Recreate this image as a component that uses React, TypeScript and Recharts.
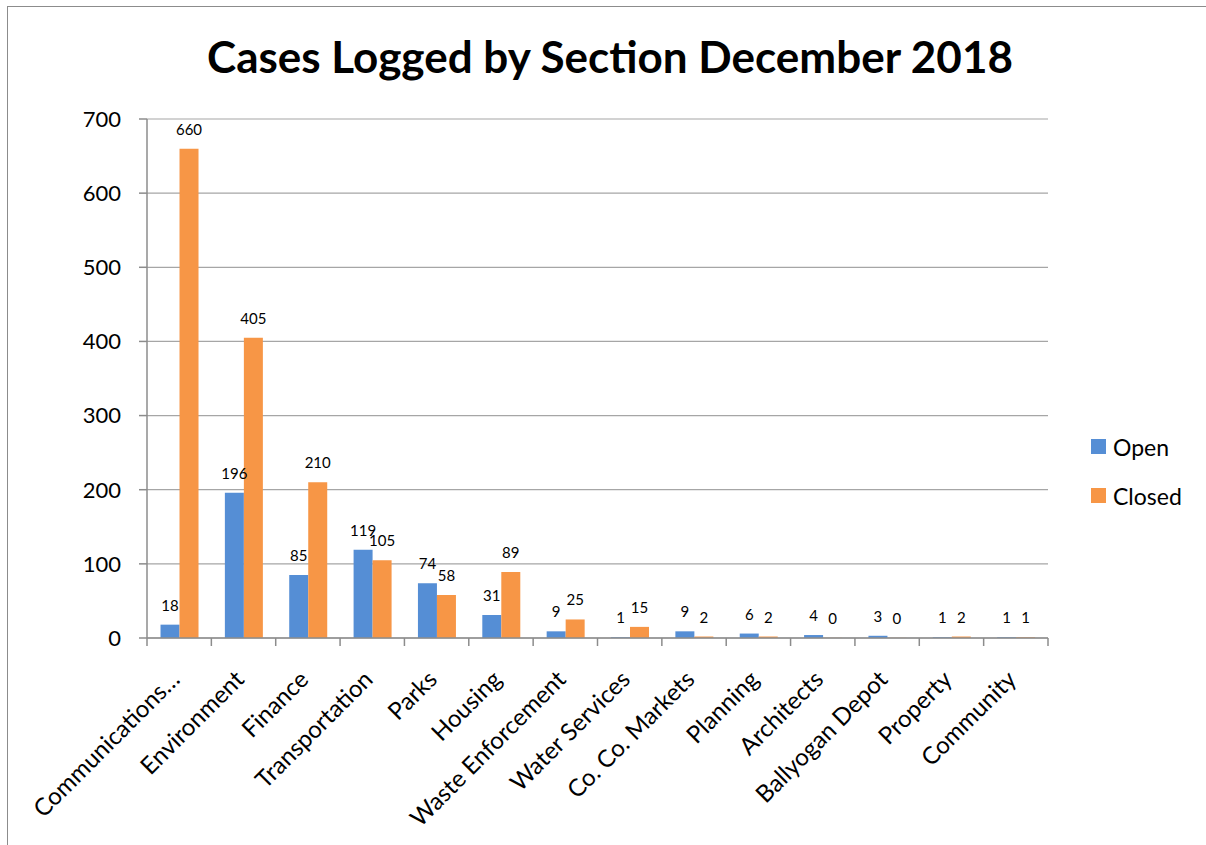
import React from "react";
import {
  BarChart,
  Bar,
  XAxis,
  YAxis,
  CartesianGrid,
  Legend,
  LabelList,
} from "recharts";

const sections = [
  "Communications…",
  "Environment",
  "Finance",
  "Transportation",
  "Parks",
  "Housing",
  "Waste Enforcement",
  "Water Services",
  "Co. Co. Markets",
  "Planning",
  "Architects",
  "Ballyogan Depot",
  "Property",
  "Community",
];
const openCases = [18, 196, 85, 119, 74, 31, 9, 1, 9, 6, 4, 3, 1, 1];
const closedCases = [660, 405, 210, 105, 58, 89, 25, 15, 2, 2, 0, 0, 2, 1];
const yTicks = [0, 100, 200, 300, 400, 500, 600, 700];

const data = sections.map((section, i) => ({
  section,
  Open: openCases[i],
  Closed: closedCases[i],
}));

const FONT = "Lato, 'Open Sans', sans-serif";
const BLUE = "#558ED5";
const ORANGE = "#F79646";
const AXIS = "#8c8c8c";

// zero-value bars still need a (practically invisible) rect so the label is drawn
const zeroMin = (value: any) => (value === 0 ? 0.2 : 0);

function SectionTick(props: any) {
  const { x, y, payload, index } = props;
  const half = payload && payload.offset ? payload.offset : 32.2;
  const ax = x + 2;
  const ay = y + 35;
  return (
    <g>
      <line x1={x - half} y1={y - 8} x2={x - half} y2={y} stroke={AXIS} strokeWidth={1.5} />
      {index === sections.length - 1 && (
        <line x1={x + half} y1={y - 8} x2={x + half} y2={y} stroke={AXIS} strokeWidth={1.5} />
      )}
      <text
        x={ax}
        y={ay}
        textAnchor="end"
        fontSize={24}
        fontFamily={FONT}
        fill="#000"
        transform={`rotate(-45 ${ax} ${ay})`}
      >
        {payload.value}
      </text>
    </g>
  );
}

function LegendBox() {
  const items = [
    { name: "Open", color: BLUE },
    { name: "Closed", color: ORANGE },
  ];
  return (
    <div style={{ fontFamily: FONT, fontSize: 23 }}>
      {items.map((it) => (
        <div key={it.name} style={{ display: "flex", alignItems: "center", height: 49 }}>
          <span style={{ width: 15, height: 15, background: it.color, marginRight: 7 }} />
          <span style={{ color: "#000" }}>{it.name}</span>
        </div>
      ))}
    </div>
  );
}

export default function App() {
  return (
    <div
      style={{
        position: "absolute",
        left: 0,
        top: 0,
        width: 1206,
        height: 845,
        overflow: "hidden",
        background: "#fff",
      }}
    >
      <div
        style={{
          position: "absolute",
          left: 7,
          top: 6,
          width: 1400,
          height: 1000,
          border: `1.5px solid ${AXIS}`,
        }}
      />
      <div
        style={{
          position: "absolute",
          left: 0,
          top: 30,
          width: 1220,
          textAlign: "center",
          fontFamily: FONT,
          fontWeight: 700,
          fontSize: 44,
          color: "#000",
        }}
      >
        Cases Logged by Section December 2018
      </div>
      <div style={{ position: "absolute", left: 0, top: 0 }}>
        <BarChart
          width={1206}
          height={845}
          data={data}
          margin={{ top: 119, right: 158, left: 87, bottom: 7 }}
          barCategoryGap="21%"
          barGap={0}
        >
          <CartesianGrid vertical={false} stroke="#a6a6a6" strokeWidth={1.2} />
          <XAxis
            dataKey="section"
            interval={0}
            height={200}
            tickLine={false}
            axisLine={{ stroke: AXIS, strokeWidth: 1.5 }}
            tick={<SectionTick />}
          />
          <YAxis
            width={60}
            domain={[0, 700]}
            ticks={yTicks}
            tickSize={8}
            tickMargin={18}
            axisLine={{ stroke: AXIS, strokeWidth: 1.5 }}
            tickLine={{ stroke: AXIS, strokeWidth: 1.5 }}
            tick={{ fontSize: 22, fontFamily: FONT, fill: "#000" }}
          />
          <Legend
            layout="vertical"
            align="center"
            verticalAlign="middle"
            content={<LegendBox />}
            wrapperStyle={{ left: 1091, top: 422, width: 112 }}
          />
          <Bar dataKey="Open" fill={BLUE} minPointSize={zeroMin} isAnimationActive={false}>
            <LabelList
              dataKey="Open"
              position="top"
              offset={14}
              fontSize={15}
              fontFamily={FONT}
              fill="#000"
            />
          </Bar>
          <Bar dataKey="Closed" fill={ORANGE} minPointSize={zeroMin} isAnimationActive={false}>
            <LabelList
              dataKey="Closed"
              position="top"
              offset={14}
              fontSize={15}
              fontFamily={FONT}
              fill="#000"
            />
          </Bar>
        </BarChart>
      </div>
    </div>
  );
}
